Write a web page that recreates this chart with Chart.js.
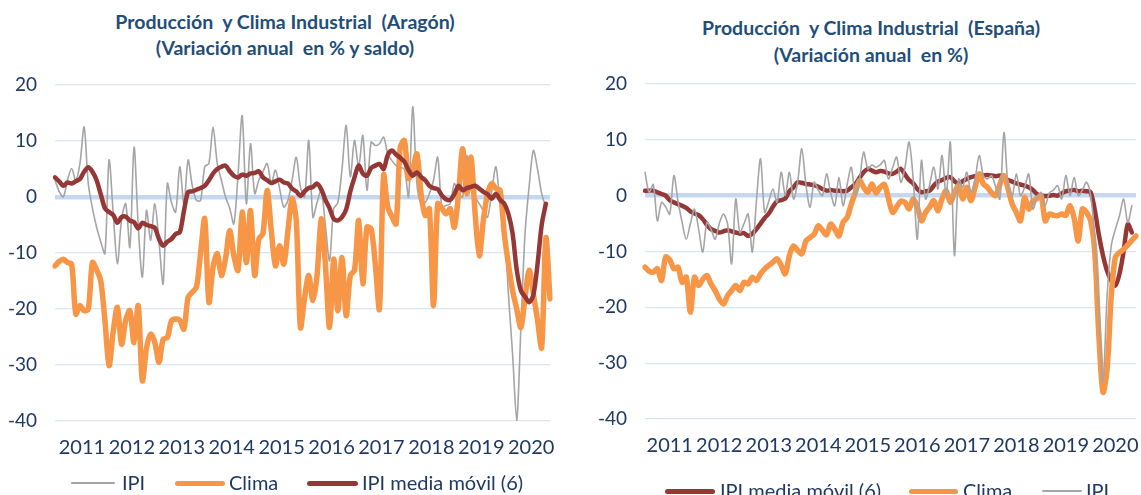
<!DOCTYPE html>
<html>
<head>
<meta charset="utf-8">
<script src="https://cdn.jsdelivr.net/npm/chart.js@4.4.1/dist/chart.umd.min.js"></script>
<style>
  body { margin: 0; width: 1141px; height: 495px; overflow: hidden; background: #fff; position: relative; font-family: Lato, sans-serif; }
  .title { position: absolute; text-align: center; font-weight: bold; font-size: 19.5px; color: #1F4E79; white-space: pre; }
  canvas { position: absolute; top: 0; }
  .lg-line { position: absolute; border-radius: 3px; }
  .lg-text { position: absolute; font-size: 20px; color: #1F3864; line-height: 22px; white-space: pre; }
</style>
</head>
<body>
<div class="title" style="left:0;width:570px;top:9px;line-height:26px">Producción  y Clima Industrial  (Aragón)
(Variación anual  en % y saldo)</div>
<div class="title" style="left:571px;width:600px;top:14px;line-height:27px">Producción  y Clima Industrial  (España)
(Variación anual  en %)</div>
<canvas id="aragon" width="570" height="495" style="left:0"></canvas>
<canvas id="espana" width="600" height="495" style="left:571px"></canvas>
<div id="legends"></div>
<script>
const years = ['2011', '2012', '2013', '2014', '2015', '2016', '2017', '2018', '2019', '2020'];
const yTicks = [-40, -30, -20, -10, 0, 10, 20];

// Aragón
const aragonIPI = [
  3.0, 1.0, 0.0, 3.0, 5.1, 3.0, 6.0, 12.5, 2.4, -2.0, -5.4, -8.0,
  -10.1, 6.6, -3.0, -11.9, -4.0, -1.2, -9.0, 8.9, -5.0, -14.3, -2.4, -7.7,
  -1.2, -8.0, -15.5, 2.4, -1.0, -2.7, 5.4, -1.2, 6.6, 2.0, -0.6, -0.6,
  5.4, 6.0, 12.5, 6.0, 3.0, 0.0, -2.0, -4.8, 4.0, 14.5, -1.2, 9.5,
  0.6, 3.0, 4.5, 6.0, 2.4, 4.8, 1.5, -1.8, -0.6, 3.0, 7.1, 1.8,
  0.0, 10.1, -3.6, -1.0, 1.2, -5.0, -11.4, -2.1, -1.0, 5.0, 12.8, 3.6,
  10.1, 5.4, 11.0, 1.2, 9.8, 9.2, 9.5, 10.7, 7.7, 6.5, 5.6, 5.3,
  5.0, 0.0, 16.1, 2.4, -1.2, -1.0, 0.6, 3.0, 7.1, -1.8, -1.5, -1.2,
  2.4, 0.5, 0.0, 7.4, 1.2, 0.0, -1.2, -2.5, -3.6, 1.0, 5.4, -1.2,
  -5.0, -17.3, -28.0, -40.0, -23.3, -6.5, 2.0, 8.3, 5.0, 0.6, -1.8, null
];
const aragonClima = [
  -12.3, -11.5, -11.1, -11.7, -12.0, -20.9, -19.4, -20.3, -20.0, -11.7, -13.0, -15.0,
  -22.0, -30.1, -24.0, -19.7, -26.3, -22.0, -20.3, -26.0, -19.4, -32.8, -27.0, -24.5,
  -26.0, -29.5, -25.4, -25.1, -22.1, -21.8, -22.0, -23.6, -17.9, -17.0, -16.1, -10.0,
  -3.9, -18.8, -12.5, -10.1, -14.0, -11.0, -6.0, -10.5, -13.1, -2.7, -11.7, -2.4,
  -14.0, -7.5, -6.5, 1.2, -6.0, -12.3, -8.7, -12.0, -6.0, -0.3, -4.2, -23.3,
  -18.0, -14.0, -18.5, -14.0, -3.9, -12.0, -23.3, -11.1, -20.3, -10.8, -21.2, -14.0,
  -13.1, -4.2, -15.5, -5.4, -5.7, -12.0, -20.0, 3.9, -1.8, -3.5, -4.8, 8.9,
  10.1, 3.3, 5.0, 7.7, 0.6, -3.3, -2.1, -19.4, -1.2, -2.0, -3.0, -2.1,
  -5.4, 0.5, 8.6, 0.6, 7.1, -3.0, -10.5, -4.0, 0.6, 2.4, 1.5, 1.2,
  -6.5, -12.0, -16.7, -20.0, -23.3, -18.0, -13.1, -17.3, -22.0, -26.9, -7.3, -18.2
];
const aragonMedia = [
  3.5, 2.8, 2.0, 2.6, 2.4, 2.8, 3.2, 4.5, 5.3, 4.5, 3.0, 0.5,
  -2.0, -2.7, -3.2, -4.6, -3.6, -3.5, -4.2, -4.5, -5.6, -4.6, -5.0, -5.2,
  -5.5, -7.5, -8.7, -8.0, -7.5, -6.6, -6.3, -2.5, 0.9, 1.0, 1.3, 1.6,
  2.0, 3.0, 4.2, 5.0, 5.4, 5.6, 4.6, 3.8, 3.5, 4.0, 3.8, 4.2,
  4.3, 4.6, 3.5, 3.0, 2.5, 2.8, 3.1, 2.6, 2.4, 1.5, 1.0, 0.2,
  1.0, 1.6, 1.8, 2.4, 1.4, -0.5, -2.0, -3.9, -4.2, -3.6, -2.2, 1.0,
  3.5, 5.6, 4.2, 3.8, 5.2, 5.6, 5.9, 5.0, 7.5, 8.3, 7.6, 7.0,
  6.3, 4.8, 3.8, 4.4, 3.6, 3.0, 2.0, 1.6, 1.4, 0.3, -0.4, -0.5,
  0.5, 2.0, 1.2, 1.6, 1.8, 2.0, 1.5, 0.9, 0.5, -0.3, 0.6, -0.5,
  -1.2, -3.0, -6.5, -13.0, -16.7, -17.8, -18.8, -17.5, -12.0, -5.0, -1.2, null
];

// España
const espanaIPI = [
  4.2, 0.6, 2.0, -4.5, -1.2, -2.0, -3.3, 3.6, -1.0, -4.8, -7.8, -5.0,
  -2.4, -6.0, -10.1, -4.8, -6.0, -7.8, -5.0, -3.3, -5.0, -12.2, -0.6, -6.6,
  -5.0, -3.3, -10.1, -1.0, 6.6, -3.0, -1.0, 1.2, -1.2, 4.2, 0.0, 4.2,
  -0.6, 2.5, 8.4, 2.0, -2.1, 2.4, 1.0, 0.0, 3.9, 0.5, -1.8, 3.3,
  -1.8, 2.0, 5.1, 0.0, 3.0, 7.8, 4.8, 5.5, 5.1, 5.5, 6.3, 3.0,
  5.0, 6.9, 2.4, 5.0, 9.6, 3.0, -7.8, 6.3, -0.6, 2.0, 5.1, 1.2,
  7.2, 0.0, 9.6, -10.7, 3.0, 1.5, 4.2, 0.6, 3.0, 7.2, 3.6, 3.0,
  3.6, 1.5, -0.6, 11.3, 1.8, 0.0, 3.9, 0.0, 1.5, 3.9, -2.4, -0.5,
  0.6, -1.8, 0.5, 1.0, 1.8, -0.6, 3.6, 0.0, 3.3, 0.0, 1.0, 2.4,
  0.0, -7.2, -20.0, -33.4, -17.9, -9.0, -6.0, -3.6, -0.6, -4.8, -1.8, null
];
const espanaClima = [
  -12.8, -13.5, -13.7, -13.1, -15.2, -11.0, -11.5, -13.1, -12.8, -15.5, -14.6, -20.9,
  -14.6, -16.1, -15.0, -14.3, -15.8, -17.0, -18.5, -19.4, -17.9, -17.0, -16.1, -17.0,
  -15.5, -15.8, -14.6, -15.2, -14.0, -13.1, -12.5, -11.9, -11.3, -12.5, -14.0, -10.7,
  -9.0, -9.8, -10.4, -8.1, -7.5, -6.9, -5.4, -6.2, -7.0, -5.1, -6.0, -7.2,
  -4.8, -3.9, -1.5, 0.6, 2.7, 1.5, 0.6, 2.1, 0.5, 1.5, 2.0, -0.5,
  -3.0, -2.0, -1.0, -1.2, -2.4, -0.6, -2.0, -4.5, -3.0, -2.0, -0.9, -2.7,
  -0.5, 0.9, -1.2, 0.5, 1.8, -0.6, 1.5, -0.9, 1.5, 3.9, 2.1, 1.5,
  0.5, 0.0, 2.0, 3.6, 1.2, -1.5, -3.0, -4.5, -0.3, -2.4, -1.0, -0.5,
  0.0, -4.5, -3.3, -3.5, -3.6, -3.3, -3.5, -1.8, -4.0, -8.1, -2.4, -3.0,
  -4.5, -10.0, -25.0, -35.2, -31.0, -18.0, -11.0, -10.2, -9.6, -8.8, -8.0, -7.2
];
const espanaMedia = [
  0.9, 0.9, 0.9, 0.6, 0.3, 0.0, -0.8, -1.2, -1.5, -1.8, -2.2, -2.8,
  -3.2, -3.5, -4.2, -5.2, -6.0, -6.3, -6.6, -6.4, -6.2, -6.4, -6.6, -6.8,
  -6.7, -7.2, -6.8, -6.0, -5.0, -4.0, -3.2, -2.0, -1.0, -0.8, -0.5, 0.8,
  1.5, 2.4, 2.3, 2.1, 2.0, 1.9, 1.6, 1.2, 0.9, 1.0, 0.9, 0.9,
  0.8, 0.9, 1.5, 2.1, 3.2, 4.2, 4.8, 4.5, 4.2, 4.4, 4.3, 4.0,
  3.9, 4.3, 4.8, 3.8, 2.8, 2.2, 1.2, 0.6, 0.8, 0.9, 1.8, 2.5,
  2.8, 3.2, 3.3, 2.6, 2.1, 2.6, 3.0, 3.3, 3.5, 3.6, 3.6, 3.7,
  3.6, 3.5, 3.6, 3.2, 2.8, 2.5, 2.2, 2.0, 1.8, 1.5, 1.0, 0.3,
  0.0, -0.1, 0.0, 0.1, 0.0, 0.4, 0.8, 0.9, 1.0, 0.8, 0.9, 0.8,
  0.6, -2.5, -7.0, -10.7, -13.5, -15.2, -16.1, -14.0, -10.0, -5.1, -6.6, null
];

// one label per month, the year shown once in the middle of its span
const months = [];
years.forEach(y => { for (let m = 1; m <= 12; m++) months.push(y + '-' + String(m).padStart(2, '0')); });

const GREY = '#A5A5A5', ORANGE = '#F79646', MAROON = '#953735';
const TICK = '#1F3864';

Chart.defaults.font.family = 'Lato, sans-serif';

function makeChart(id, ipi, clima, media, onTop, pad, yWidth, labelShift) {
  const sets = {
    ipi: { label: 'IPI', data: ipi, borderColor: GREY, borderWidth: 1.6 },
    clima: { label: 'Clima', data: clima, borderColor: ORANGE, borderWidth: 5.5 },
    media: { label: 'IPI media móvil (6)', data: media, borderColor: MAROON, borderWidth: 4.5 }
  };
  onTop.forEach((k, i) => { sets[k].order = i; });
  return new Chart(document.getElementById(id), {
    type: 'line',
    data: {
      labels: months,
      datasets: [sets.ipi, sets.clima, sets.media].map(d => Object.assign(d, {
        pointRadius: 0, tension: 0.3, fill: false, spanGaps: false, borderCapStyle: 'round', borderJoinStyle: 'round'
      }))
    },
    options: {
      responsive: false,
      animation: false,
      layout: { padding: pad },
      plugins: { legend: { display: false }, tooltip: { enabled: false } },
      scales: {
        x: {
          grid: { display: false },
          border: { display: false },
          afterFit: s => { s.height = 40; },
          ticks: {
            autoSkip: false, maxRotation: 0, minRotation: 0, padding: 7, labelOffset: labelShift,
            color: TICK, font: { size: 20 },
            callback: (v, i) => (i % 12 === 6 ? months[i].slice(0, 4) : '')
          }
        },
        y: {
          min: yTicks[0], max: yTicks[yTicks.length - 1],
          border: { display: false },
          afterFit: s => { s.width = yWidth; },
          afterBuildTicks: s => { s.ticks = yTicks.map(v => ({ value: v })); },
          grid: {
            drawTicks: false,
            color: c => (c.tick && c.tick.value === 0 ? '#C5D8EF' : '#DAE5F3'),
            lineWidth: c => (c.tick && c.tick.value === 0 ? 4.5 : 1.2)
          },
          ticks: { padding: 18, color: TICK, font: { size: 19 } }
        }
      }
    }
  });
}

makeChart('aragon', aragonIPI, aragonClima, aragonMedia, ['media', 'clima', 'ipi'],
  { top: 85, bottom: 34, left: 0, right: 20 }, 55, 2);
makeChart('espana', espanaIPI, espanaClima, espanaMedia, ['ipi', 'clima', 'media'],
  { top: 84, bottom: 36, left: 0, right: 35 }, 74, 0);

// legends drawn as html so each item sits where the original has it
const legendItems = [
  { y: 483, x0: 71, x1: 115, tx: 122, color: GREY, w: 2, text: 'IPI' },
  { y: 483, x0: 175, x1: 225, tx: 229, color: ORANGE, w: 5, text: 'Clima' },
  { y: 483, x0: 307, x1: 358, tx: 362, color: MAROON, w: 5, text: 'IPI media móvil (6)' },
  { y: 491, x0: 665, x1: 715, tx: 720, color: MAROON, w: 5, text: 'IPI media móvil (6)' },
  { y: 491, x0: 909, x1: 958, tx: 963, color: ORANGE, w: 5, text: 'Clima' },
  { y: 491, x0: 1042, x1: 1082, tx: 1086, color: GREY, w: 2, text: 'IPI' }
];
const box = document.getElementById('legends');
legendItems.forEach(it => {
  const line = document.createElement('div');
  line.className = 'lg-line';
  line.style.cssText = `left:${it.x0}px;width:${it.x1 - it.x0}px;top:${it.y - it.w / 2}px;height:${it.w}px;background:${it.color}`;
  const t = document.createElement('div');
  t.className = 'lg-text';
  t.style.cssText = `left:${it.tx}px;top:${it.y - 12}px`;
  t.textContent = it.text;
  box.appendChild(line);
  box.appendChild(t);
});
</script>
</body>
</html>
